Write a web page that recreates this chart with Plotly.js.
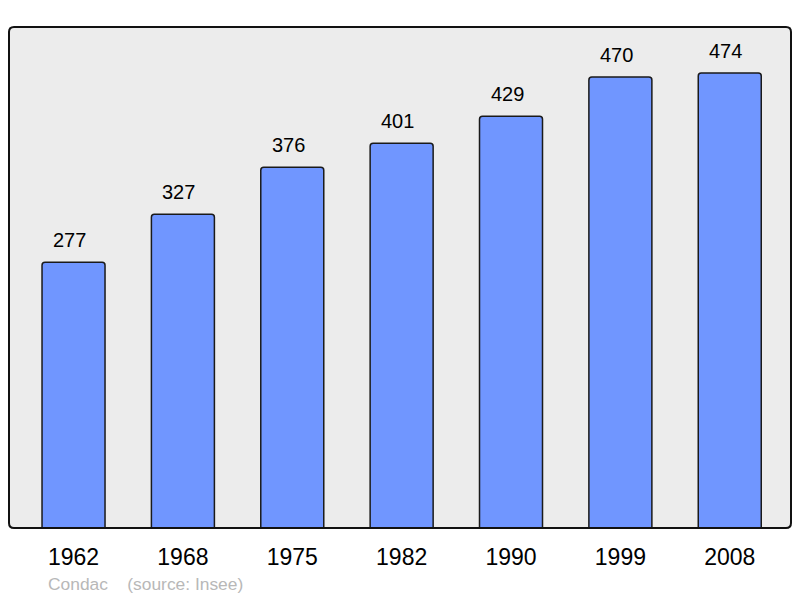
<!DOCTYPE html>
<html>
<head>
<meta charset="utf-8">
<script src="https://cdn.plot.ly/plotly-3.0.1.min.js"></script>
<style>html,body{margin:0;padding:0;background:#fff;}#chart{width:800px;height:598px;}</style>
</head>
<body>
<div id="chart"></div>
<script>
const years = ["1962", "1968", "1975", "1982", "1990", "1999", "2008"];
const population = [277, 327, 376, 401, 429, 470, 474];
const sourceText = "Condac\u00a0\u00a0\u00a0\u00a0(source: Insee)";

const trace = {
  type: "bar",
  x: years,
  y: population,
  width: 0.576,
  marker: {color: "#7096ff", line: {color: "#1a1a1a", width: 1.5}, cornerradius: 3},
  hoverinfo: "skip"
};

const valueLabels = years.map((yr, i) => ({
  x: i, y: population[i], xref: "x", yref: "y",
  text: String(population[i]), showarrow: false,
  yanchor: "bottom", yshift: 9, xshift: -4,
  font: {family: "Liberation Sans, Arial, sans-serif", size: 20, color: "#000"}
}));

const rx = 5 / 782, ry = 5 / 501;
const borderPath = `M ${rx} 0 L ${1 - rx} 0 Q 1 0 1 ${ry} L 1 ${1 - ry} Q 1 1 ${1 - rx} 1 L ${rx} 1 Q 0 1 0 ${1 - ry} L 0 ${ry} Q 0 0 ${rx} 0 Z`;

const layout = {
  width: 800, height: 598,
  margin: {l: 9, r: 9, t: 27, b: 70},
  paper_bgcolor: "#ffffff",
  plot_bgcolor: "#ececec",
  showlegend: false,
  font: {family: "Liberation Sans, Arial, sans-serif"},
  xaxis: {
    type: "category",
    range: [-0.59, 6.56],
    showgrid: false, zeroline: false, showline: false,
    ticks: "", ticklabelstandoff: 13,
    tickfont: {size: 23, color: "#000"},
    fixedrange: true
  },
  yaxis: {
    range: [0, 522],
    showgrid: false, zeroline: false, showline: false,
    showticklabels: false, ticks: "",
    fixedrange: true
  },
  shapes: [{
    type: "path", xref: "paper", yref: "paper",
    path: borderPath,
    line: {color: "#111", width: 2},
    layer: "above"
  }],
  annotations: valueLabels.concat([{
    xref: "paper", yref: "paper", x: 0.047, y: -0.112,
    xanchor: "left", yanchor: "middle",
    text: sourceText, showarrow: false,
    font: {family: "Liberation Sans, Arial, sans-serif", size: 17.4, color: "#b8b8b8"}
  }])
};

Plotly.newPlot("chart", [trace], layout, {displayModeBar: false, staticPlot: true});
</script>
</body>
</html>
